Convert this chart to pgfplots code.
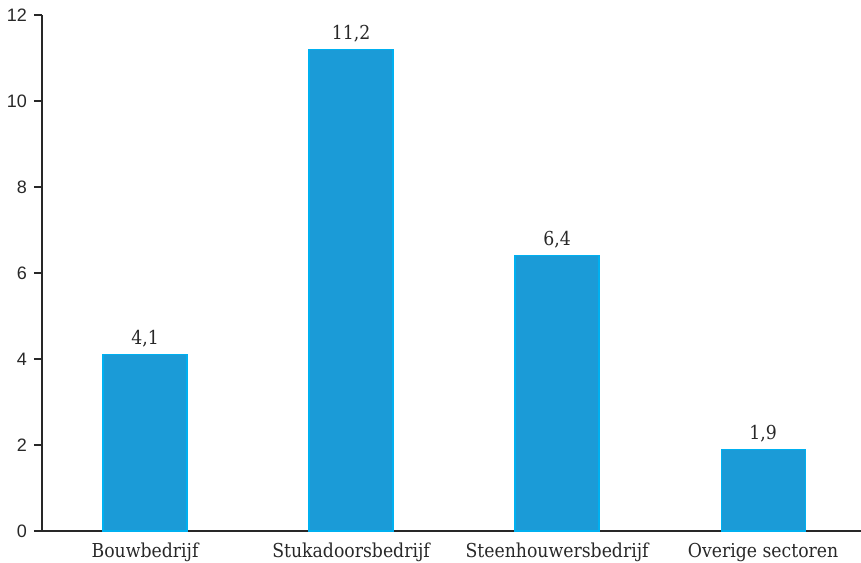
\documentclass[border=0pt]{standalone}
\usepackage{pgfplots}
\pgfplotsset{compat=1.18}
\usepackage{fontspec}
\setmainfont{DejaVu Serif Condensed}
\newfontfamily\ticksans{Liberation Sans}
\usetikzlibrary{calc}
\definecolor{barfill}{RGB}{27,155,215}
\definecolor{baredge}{RGB}{0,176,240}
\definecolor{axcol}{RGB}{40,40,40}
\definecolor{txtcol}{RGB}{40,40,40}
\begin{document}
\begin{tikzpicture}
\begin{axis}[
  scale only axis,
  width=409.5pt, height=258pt,
  xmin=-0.5, xmax=3.475,
  ymin=0, ymax=12,
  axis lines*=left,
  axis line style={axcol, line width=0.8pt},
  ytick={0,2,...,12},
  yticklabel style={font=\ticksans\fontsize{9}{10}\selectfont, text=txtcol},
  /pgf/number format/assume math mode=true,
  xtick={0,1,2,3},
  xticklabels={Bouwbedrijf,Stukadoorsbedrijf,Steenhouwersbedrijf,Overige sectoren},
  xticklabel style={font=\fontsize{9.6}{10}\selectfont, text=txtcol, yshift=1.5pt},
  extra x ticks={0.5,1.5,2.5},
  extra x tick labels={},
  extra x tick style={major tick length=4pt, tick style={axcol, line width=0.8pt}, tick align=outside},
  major x tick style={draw=none},
  major tick length=4pt,
  tick align=outside,
  ytick style={axcol, line width=0.8pt},
  ybar, bar width=42pt,
  nodes near coords,
  nodes near coords style={font=\fontsize{9.6}{10}\selectfont, text=txtcol, /pgf/number format/use comma, /pgf/number format/fixed, /pgf/number format/fixed zerofill, /pgf/number format/precision=1},
  clip=false,
]
\addplot[fill=barfill, draw=baredge, line width=0.6pt] coordinates {(0,4.1) (1,11.2) (2,6.4) (3,1.9)};
\end{axis}
\pgfresetboundingbox
\path ($(current axis.south west)+(-21pt,-15.5pt)$) rectangle ($(current axis.north east)+(0pt,7.5pt)$);
\end{tikzpicture}
\end{document}
